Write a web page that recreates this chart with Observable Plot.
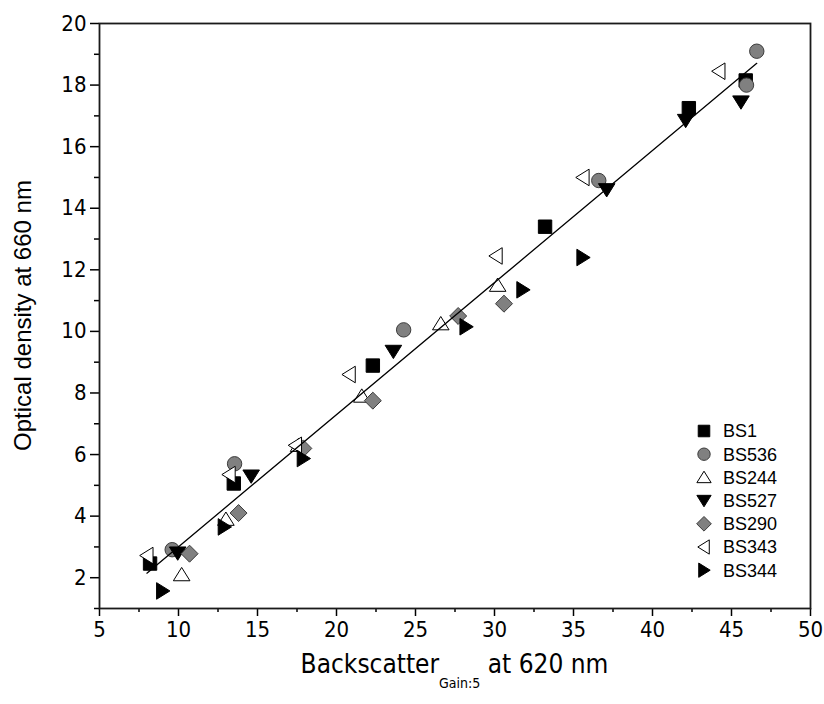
<!DOCTYPE html>
<html><head><meta charset="utf-8">
<script src="https://cdn.jsdelivr.net/npm/d3@7"></script>
<script src="https://cdn.jsdelivr.net/npm/@observablehq/plot@0.6"></script>
<style>body{margin:0;background:#fff}</style>
</head><body><div id="chart"></div>
<script>
// ---- data ----
const seriesNames = ["BS1","BS536","BS244","BS527","BS290","BS343","BS344"];
const bs1X   = [8.2, 13.5, 22.3, 33.2, 42.3, 45.9];
const bs1Y   = [2.46, 5.06, 8.89, 13.4, 17.25, 18.15];
const bs536X = [9.6, 13.55, 24.25, 36.6, 45.95, 46.6];
const bs536Y = [2.91, 5.7, 10.05, 14.9, 18.0, 19.1];
const bs244X = [10.2, 13.0, 17.6, 21.6, 26.6, 30.2];
const bs244Y = [2.1, 3.9, 6.3, 7.9, 10.25, 11.5];
const bs527X = [9.95, 14.6, 23.6, 37.1, 42.1, 45.6];
const bs527Y = [2.8, 5.3, 9.35, 14.6, 16.85, 17.45];
const bs290X = [10.7, 13.8, 17.9, 22.3, 27.7, 30.6];
const bs290Y = [2.78, 4.1, 6.2, 7.75, 10.5, 10.9];
const bs343X = [8.0, 13.2, 17.4, 20.8, 30.1, 35.6, 44.2];
const bs343Y = [2.72, 5.35, 6.3, 8.6, 12.45, 15.0, 18.45];
const bs344X = [9.0, 12.9, 17.9, 28.2, 31.8, 35.6];
const bs344Y = [1.57, 3.65, 5.87, 10.15, 11.35, 12.4];
const xTicks = [5,10,15,20,25,30,35,40,45,50];
const xMinorTicks = [7.5,12.5,17.5,22.5,27.5,32.5,37.5,42.5,47.5];
const yTicks = [2,4,6,8,10,12,14,16,18,20];
const yMinorTicks = [1,3,5,7,9,11,13,15,17,19];
const xTitle = ["Backscatter", "Gain:5", " at 620 nm"];
const yTitle = "Optical density at 660 nm";

// ---- symbols ----
const rOf = s => Math.sqrt(s / Math.PI);
const symSquare = {draw(c, s){const r = rOf(s)*0.93; c.rect(-r,-r,2*r,2*r);}};
const symCircle = d3.symbolCircle;
const symUp = {draw(c, s){const r = rOf(s); c.moveTo(0,-r); c.lineTo(1.15*r,0.85*r); c.lineTo(-1.15*r,0.85*r); c.closePath();}};
const symDown = {draw(c, s){const r = rOf(s); c.moveTo(0,r); c.lineTo(1.15*r,-0.85*r); c.lineTo(-1.15*r,-0.85*r); c.closePath();}};
const symLeft = {draw(c, s){const r = rOf(s); c.moveTo(-r,0); c.lineTo(0.85*r,-1.15*r); c.lineTo(0.85*r,1.15*r); c.closePath();}};
const symRight = {draw(c, s){const r = rOf(s); c.moveTo(r,0); c.lineTo(-0.85*r,-1.15*r); c.lineTo(-0.85*r,1.15*r); c.closePath();}};
const symDiamond = {draw(c, s){const r = rOf(s)*1.18; c.moveTo(0,-r); c.lineTo(r,0); c.lineTo(0,r); c.lineTo(-r,0); c.closePath();}};

const styles = [
  {sym: symSquare, fill: "#000", stroke: "#000", xs: bs1X, ys: bs1Y},
  {sym: symCircle, fill: "#808080", stroke: "#3c3c3c", xs: bs536X, ys: bs536Y},
  {sym: symUp, fill: "#fff", stroke: "#000", xs: bs244X, ys: bs244Y},
  {sym: symDown, fill: "#000", stroke: "#000", xs: bs527X, ys: bs527Y},
  {sym: symDiamond, fill: "#808080", stroke: "#3c3c3c", xs: bs290X, ys: bs290Y},
  {sym: symLeft, fill: "#fff", stroke: "#000", xs: bs343X, ys: bs343Y},
  {sym: symRight, fill: "#000", stroke: "#000", xs: bs344X, ys: bs344Y}
];
const R = 7.2;

const all = [];
styles.forEach((st, i) => st.xs.forEach((x, j) => all.push({series: seriesNames[i], x, y: st.ys[j]})));

const dotMarks = styles.map((st, i) =>
  Plot.dot(all.filter(d => d.series === seriesNames[i]), {
    x: "x", y: "y", symbol: st.sym, r: R, fill: st.fill, stroke: st.stroke, strokeWidth: 1
  })
);

const tickFont = "'Liberation Sans Narrow', 'DejaVu Sans Condensed', 'Liberation Sans', Arial, sans-serif";
const plainFont = "'Liberation Sans', Arial, sans-serif";

const svg = Plot.plot({
  width: 824, height: 704,
  marginLeft: 99, marginRight: 14, marginTop: 23, marginBottom: 96,
  x: {domain: [5, 50]},
  y: {domain: [1, 20]},
  style: {fontFamily: tickFont, background: "#fff", color: "#000"},
  marks: [
    Plot.axisX({ticks: xTicks, tickSize: 8, tickPadding: 5, fontSize: 22, label: null, strokeWidth: 1.5}),
    Plot.axisX({ticks: xMinorTicks, tickSize: 4, tickFormat: () => "", label: null, strokeWidth: 1.5}),
    Plot.axisY({ticks: yTicks, tickSize: 9, tickPadding: 4, fontSize: 22, label: null, strokeWidth: 1.5}),
    Plot.axisY({ticks: yMinorTicks, tickSize: 5, tickFormat: () => "", label: null, strokeWidth: 1.5}),
    ...dotMarks,
    Plot.linearRegressionY(all, {x: "x", y: "y", ci: 0, stroke: "#000", strokeWidth: 1.3}),
    Plot.frame({stroke: "#1a1a1a", strokeWidth: 1.8})
  ]
});
document.getElementById("chart").appendChild(svg);

// ---- axis titles and legend ----
const sx = svg.scale("x"), sy = svg.scale("y");
const s = d3.select(svg);
const cx = (sx.apply(5) + sx.apply(50)) / 2;
const xt = s.append("text")
  .attr("x", cx).attr("y", 673).attr("text-anchor", "middle")
  .attr("font-family", tickFont).attr("font-size", 26).attr("fill", "#000");
xt.append("tspan").text(xTitle[0]);
xt.append("tspan").attr("font-size", 14).attr("dy", 15).text(xTitle[1]);
xt.append("tspan").attr("dy", -15).text(xTitle[2]);

const cy = (sy.apply(1) + sy.apply(20)) / 2;
s.append("text")
  .attr("transform", `translate(31,${cy}) rotate(-90)`)
  .attr("text-anchor", "middle")
  .attr("font-family", plainFont).attr("font-size", 24).attr("fill", "#000")
  .text(yTitle);

const lg = s.append("g");
styles.forEach((st, i) => {
  const y = 431 + i * 23.2;
  lg.append("path")
    .attr("d", d3.symbol(st.sym, Math.PI * 6.2 * 6.2)())
    .attr("transform", `translate(704,${y})`)
    .attr("fill", st.fill).attr("stroke", st.stroke).attr("stroke-width", 1);
  lg.append("text")
    .attr("x", 723).attr("y", y).attr("dy", "0.36em")
    .attr("text-anchor", "start")
    .attr("font-family", plainFont).attr("font-size", 18).attr("fill", "#000")
    .text(seriesNames[i]);
});
</script>
</body></html>
